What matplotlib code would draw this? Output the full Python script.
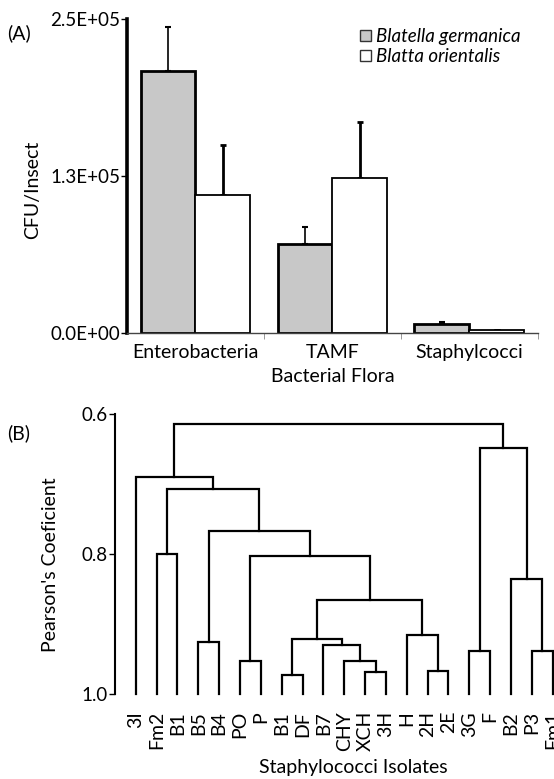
import numpy as np
import matplotlib
matplotlib.use("Agg")
import matplotlib.pyplot as plt
from matplotlib.patches import Patch

plt.rcParams['font.family'] = ['Lato', 'DejaVu Sans']

# panel A data
flora = ['Enterobacteria', 'TAMF', 'Staphylcocci']
germanica = [209000, 71000, 7400]
germanica_err = [34500, 13300, 1100]
orientalis = [109600, 123600, 2400]
orientalis_err = [40000, 44300, 400]
ytick_vals = [0, 125000, 250000]
ytick_text = ['0.0E+00', '1.3E+05', '2.5E+05']

# panel B data: leaf order and merges (left, right, coefficient)
isolates = ['3I', 'Fm2', 'B1', 'B5', 'B4', 'PO', 'P', 'B1', 'DF', 'B7', 'CHY',
            'XCH', '3H', 'H', '2H', '2E', '3G', 'F', 'B2', 'P3', 'Fm1']
merges = [
    (1, 2, 0.800),
    (3, 4, 0.925),
    (5, 6, 0.953),
    (7, 8, 0.972),
    (11, 12, 0.968),
    (10, 25, 0.952),
    (9, 26, 0.930),
    (24, 27, 0.921),
    (14, 15, 0.967),
    (13, 29, 0.915),
    (28, 30, 0.865),
    (23, 31, 0.802),
    (22, 32, 0.767),
    (21, 33, 0.7075),
    (0, 34, 0.6895),
    (16, 17, 0.938),
    (19, 20, 0.938),
    (18, 37, 0.836),
    (36, 38, 0.649),
    (35, 39, 0.6147),
]

fs = 14

fig = plt.figure(figsize=(5.54, 7.79), dpi=100)

# ---- (A) bar chart
ax = fig.add_axes([0.2292, 0.5725, 0.7414, 0.4031])
x = np.arange(len(flora))
w = 0.4
ax.bar(x - w/2, germanica, w, color='#c8c8c8', edgecolor='black', linewidth=2,
       zorder=2)
ax.bar(x + w/2, orientalis, w, color='white', edgecolor='black', linewidth=1.3,
       zorder=2)
ax.errorbar(x - w/2, germanica, yerr=[np.zeros(3), germanica_err], fmt='none',
            ecolor='black', elinewidth=1.2, capsize=2, capthick=1.5, zorder=1)
ax.errorbar(x + w/2, orientalis, yerr=[np.zeros(3), orientalis_err], fmt='none',
            ecolor='black', elinewidth=2, capsize=2, capthick=2, zorder=1)
ax.set_xlim(-0.5, 2.5)
ax.set_ylim(0, 250000)
ax.set_yticks(ytick_vals)
ax.set_yticklabels(ytick_text)
ax.set_xticks(x)
ax.set_xticklabels(flora)
ax.set_xticks([0.5, 1.5, 2.5], minor=True)
ax.tick_params(axis='x', which='major', length=0, labelsize=fs, pad=8)
ax.tick_params(axis='x', which='minor', length=4, color='#888888')
ax.tick_params(axis='y', length=4, width=1, labelsize=13.5, pad=1)
for s in ['top', 'right']:
    ax.spines[s].set_visible(False)
ax.spines['left'].set_linewidth(2.6)
ax.spines['bottom'].set_linewidth(1)
ax.spines['bottom'].set_color('#444444')
handles = [Patch(facecolor='#c8c8c8', edgecolor='#333333', linewidth=1),
           Patch(facecolor='white', edgecolor='#333333', linewidth=1)]
ax.legend(handles, ['Blatella germanica', 'Blatta orientalis'], loc='upper left',
          bbox_to_anchor=(0.545, 1.0), frameon=False, borderpad=0, labelspacing=0.15,
          handlelength=0.55, handleheight=0.55, handletextpad=0.3,
          prop={'style': 'italic', 'size': 13.5})
ax.set_xlabel('Bacterial Flora', fontsize=fs, va='center')
ax.xaxis.set_label_coords(0.5, -0.137)
fig.text(0.059, 0.756, 'CFU/Insect', rotation=90, ha='center', va='center', fontsize=fs)
fig.text(0.012, 0.957, '(A)', fontsize=fs, va='center')

# ---- (B) dendrogram
bx = fig.add_axes([0.2076, 0.1087, 0.7924, 0.3598])
n = len(isolates)
pos = {i: (float(i), 1.0) for i in range(n)}
for k, (a, b, h) in enumerate(merges):
    xa, ha = pos[a]
    xb, hb = pos[b]
    bx.plot([xa, xa, xb, xb], [ha, h, h, hb], color='black', lw=1.6,
            solid_joinstyle='miter', clip_on=False)
    pos[n + k] = ((xa + xb) / 2, h)
bx.set_xlim(-0.993, 20.06)
bx.set_ylim(1.0, 0.6)
bx.set_yticks([0.6, 0.8, 1.0])
bx.set_yticklabels(['0.6', '0.8', '1.0'])
bx.set_xticks(np.arange(n))
bx.set_xticklabels(isolates, rotation=90)
bx.tick_params(axis='x', length=0, labelsize=fs, pad=12)
bx.tick_params(axis='y', length=4, width=1, labelsize=13.5, pad=1)
for s in ['top', 'right', 'bottom']:
    bx.spines[s].set_visible(False)
bx.spines['left'].set_linewidth(1.5)
bx.set_xlabel('Staphylococci Isolates', fontsize=fs, va='center')
bx.xaxis.set_label_coords(0.542, -0.262)
fig.text(0.091, 0.275, "Pearson's Coeficient", rotation=90, ha='center', va='center', fontsize=fs)
fig.text(0.012, 0.444, '(B)', fontsize=fs, va='center')

fig.savefig('out.png', dpi=100)
